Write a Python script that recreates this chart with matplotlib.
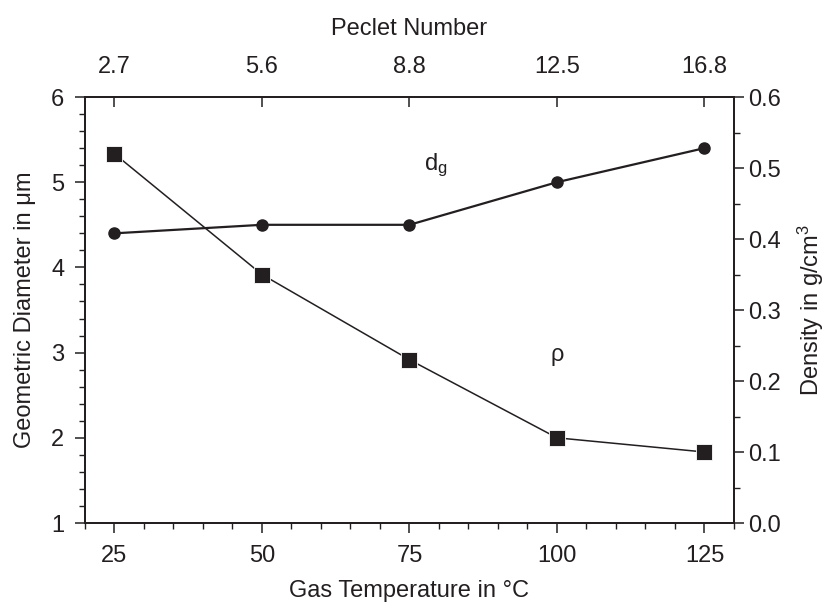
import matplotlib
matplotlib.use("Agg")
import matplotlib.pyplot as plt
from matplotlib.ticker import MultipleLocator, FixedLocator

plt.rcParams['font.family'] = ['Liberation Sans', 'DejaVu Sans']
plt.rcParams['mathtext.fontset'] = 'custom'
plt.rcParams['mathtext.rm'] = 'Liberation Sans'
plt.rcParams['mathtext.it'] = 'Liberation Sans:italic'

temperature = [25, 50, 75, 100, 125]
peclet_labels = ["2.7", "5.6", "8.8", "12.5", "16.8"]
diameter = [4.4, 4.5, 4.5, 5.0, 5.4]
density = [0.52, 0.35, 0.23, 0.12, 0.10]

c = '#231f20'
fs = 17

fig = plt.figure(figsize=(8.29, 6.12), dpi=100)
ax = fig.add_axes([0.1025, 0.1454, 0.7829, 0.6961])
ax2 = ax.twinx()
ax3 = ax.twiny()

ax.plot(temperature, diameter, '-o', color=c, lw=1.6, ms=8, zorder=3)
ax2.plot(temperature, density, '-s', color=c, lw=1.1, ms=12, zorder=3,
         markeredgecolor='white', markeredgewidth=0.6)

ax.set_xlim(20, 130)
ax.set_ylim(1, 6)
ax2.set_ylim(0, 0.6)
ax3.set_xlim(20, 130)

ax.xaxis.set_major_locator(FixedLocator(temperature))
ax.xaxis.set_minor_locator(MultipleLocator(5))
ax.yaxis.set_major_locator(MultipleLocator(1))
ax.yaxis.set_minor_locator(MultipleLocator(0.2))
ax2.yaxis.set_major_locator(MultipleLocator(0.1))
ax2.yaxis.set_minor_locator(MultipleLocator(0.05))
ax2.set_yticks([0.0, 0.1, 0.2, 0.3, 0.4, 0.5, 0.6])
ax2.set_yticklabels(["0.0", "0.1", "0.2", "0.3", "0.4", "0.5", "0.6"])
ax3.set_xticks(temperature)
ax3.set_xticklabels(peclet_labels)

for a in (ax, ax2, ax3):
    for s in a.spines.values():
        s.set_color(c)
        s.set_linewidth(1.2)

ax.tick_params(axis='x', which='major', direction='out', length=7, width=1.1,
               colors=c, labelsize=fs, pad=9)
ax.tick_params(axis='y', which='major', direction='out', length=7, width=1.1,
               colors=c, labelsize=fs, pad=8)
ax.tick_params(axis='both', which='minor', direction='out', length=4.5, width=1.0, colors=c)
ax2.tick_params(axis='y', which='major', direction='out', length=7, width=1.1,
                colors=c, labelsize=fs, pad=3)
ax2.tick_params(axis='y', which='minor', direction='out', length=4.5, width=1.0, colors=c)
ax3.tick_params(axis='x', which='major', direction='in', length=7, width=1.1,
                colors=c, labelsize=fs, pad=14)
ax3.tick_params(axis='x', which='minor', length=0)

ax.set_xlabel("Gas Temperature in \u00b0C", fontsize=fs, color=c, labelpad=9)
ax.set_ylabel("Geometric Diameter in \u03bcm", fontsize=fs, color=c, labelpad=11)
ax2.set_ylabel("Density in g/cm$^3$", fontsize=fs, color=c, labelpad=11)
ax3.set_xlabel("Peclet Number", fontsize=fs, color=c, labelpad=15)

ax.text(79.5, 5.2, "d$_\\mathrm{g}$", fontsize=fs, color=c, ha='center', va='center')
ax.text(100, 2.97, "\u03c1", fontsize=fs, color=c, ha='center', va='center')

fig.savefig("out.png", dpi=100)
